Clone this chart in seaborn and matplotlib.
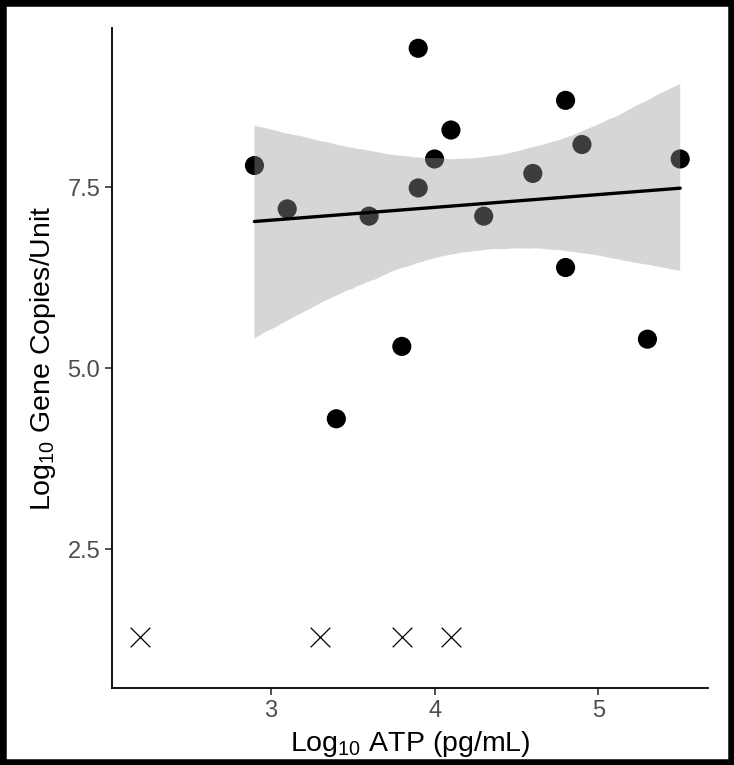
import matplotlib
matplotlib.use("Agg")
import matplotlib.pyplot as plt
import seaborn as sns
import pandas as pd
from matplotlib.patches import Rectangle

# detected samples
atp = [2.9, 3.1, 3.4, 3.6, 3.8, 3.9, 3.9, 4.0, 4.1, 4.3, 4.6, 4.8, 4.8, 4.9, 5.3, 5.5]
copies = [7.8, 7.2, 4.3, 7.1, 5.3, 9.42, 7.49, 7.89, 8.29, 7.1, 7.69, 8.7, 6.39, 8.09, 5.4, 7.89]

# below detection limit
nd_atp = [2.2, 3.3, 3.8, 4.1]
nd_copies = [1.28, 1.28, 1.28, 1.28]

df = pd.DataFrame({"atp": atp, "copies": copies})
nd = pd.DataFrame({"atp": nd_atp, "copies": nd_copies})

sns.set_theme(style="ticks")
plt.rcParams["font.family"] = ["Liberation Sans", "DejaVu Sans"]
plt.rcParams["mathtext.default"] = "regular"

fig = plt.figure(figsize=(7.34, 7.65), dpi=100)
ax = fig.add_axes([0.1526, 0.1007, 0.812, 0.8627])

sns.scatterplot(data=df, x="atp", y="copies", ax=ax, color="black", s=190,
                edgecolor="none", linewidth=0, zorder=1)
n_before = len(ax.collections)
sns.regplot(data=df, x="atp", y="copies", ax=ax, scatter=False, color="#999999",
            n_boot=5000, seed=7, line_kws={"color": "black", "linewidth": 2.4, "zorder": 3})
# ggplot-like band: grey60 at 40% opacity, drawn over the points
for c in ax.collections[n_before:]:
    c.set_alpha(0.4)
    c.set_facecolor("#999999")
    c.set_edgecolor("none")
    c.set_zorder(2)
sns.scatterplot(data=nd, x="atp", y="copies", ax=ax, color="black", marker="x",
                s=200, linewidth=0.9)

ax.set_xlim(2.03, 5.67)
ax.set_ylim(0.58, 9.7)
ax.set_xticks([3, 4, 5])
ax.set_yticks([2.5, 5.0, 7.5])
ax.set_yticklabels(["2.5", "5.0", "7.5"])
ax.set_xlabel("Log$_{10}$ ATP (pg/mL)", fontsize=20.5, color="black", labelpad=5)
ax.set_ylabel("Log$_{10}$ Gene Copies/Unit", fontsize=20.5, color="black", labelpad=7)
ax.tick_params(axis="both", labelsize=17, labelcolor="#4D4D4D", color="#333333",
               length=5, width=1.2)
for s in ["left", "bottom"]:
    ax.spines[s].set_linewidth(1.3)
    ax.spines[s].set_color("black")
sns.despine(ax=ax)

fig.patches.append(Rectangle((0, 0), 1, 1, transform=fig.transFigure,
                             fill=False, edgecolor="black", linewidth=9))

fig.savefig("out.png", dpi=100)
